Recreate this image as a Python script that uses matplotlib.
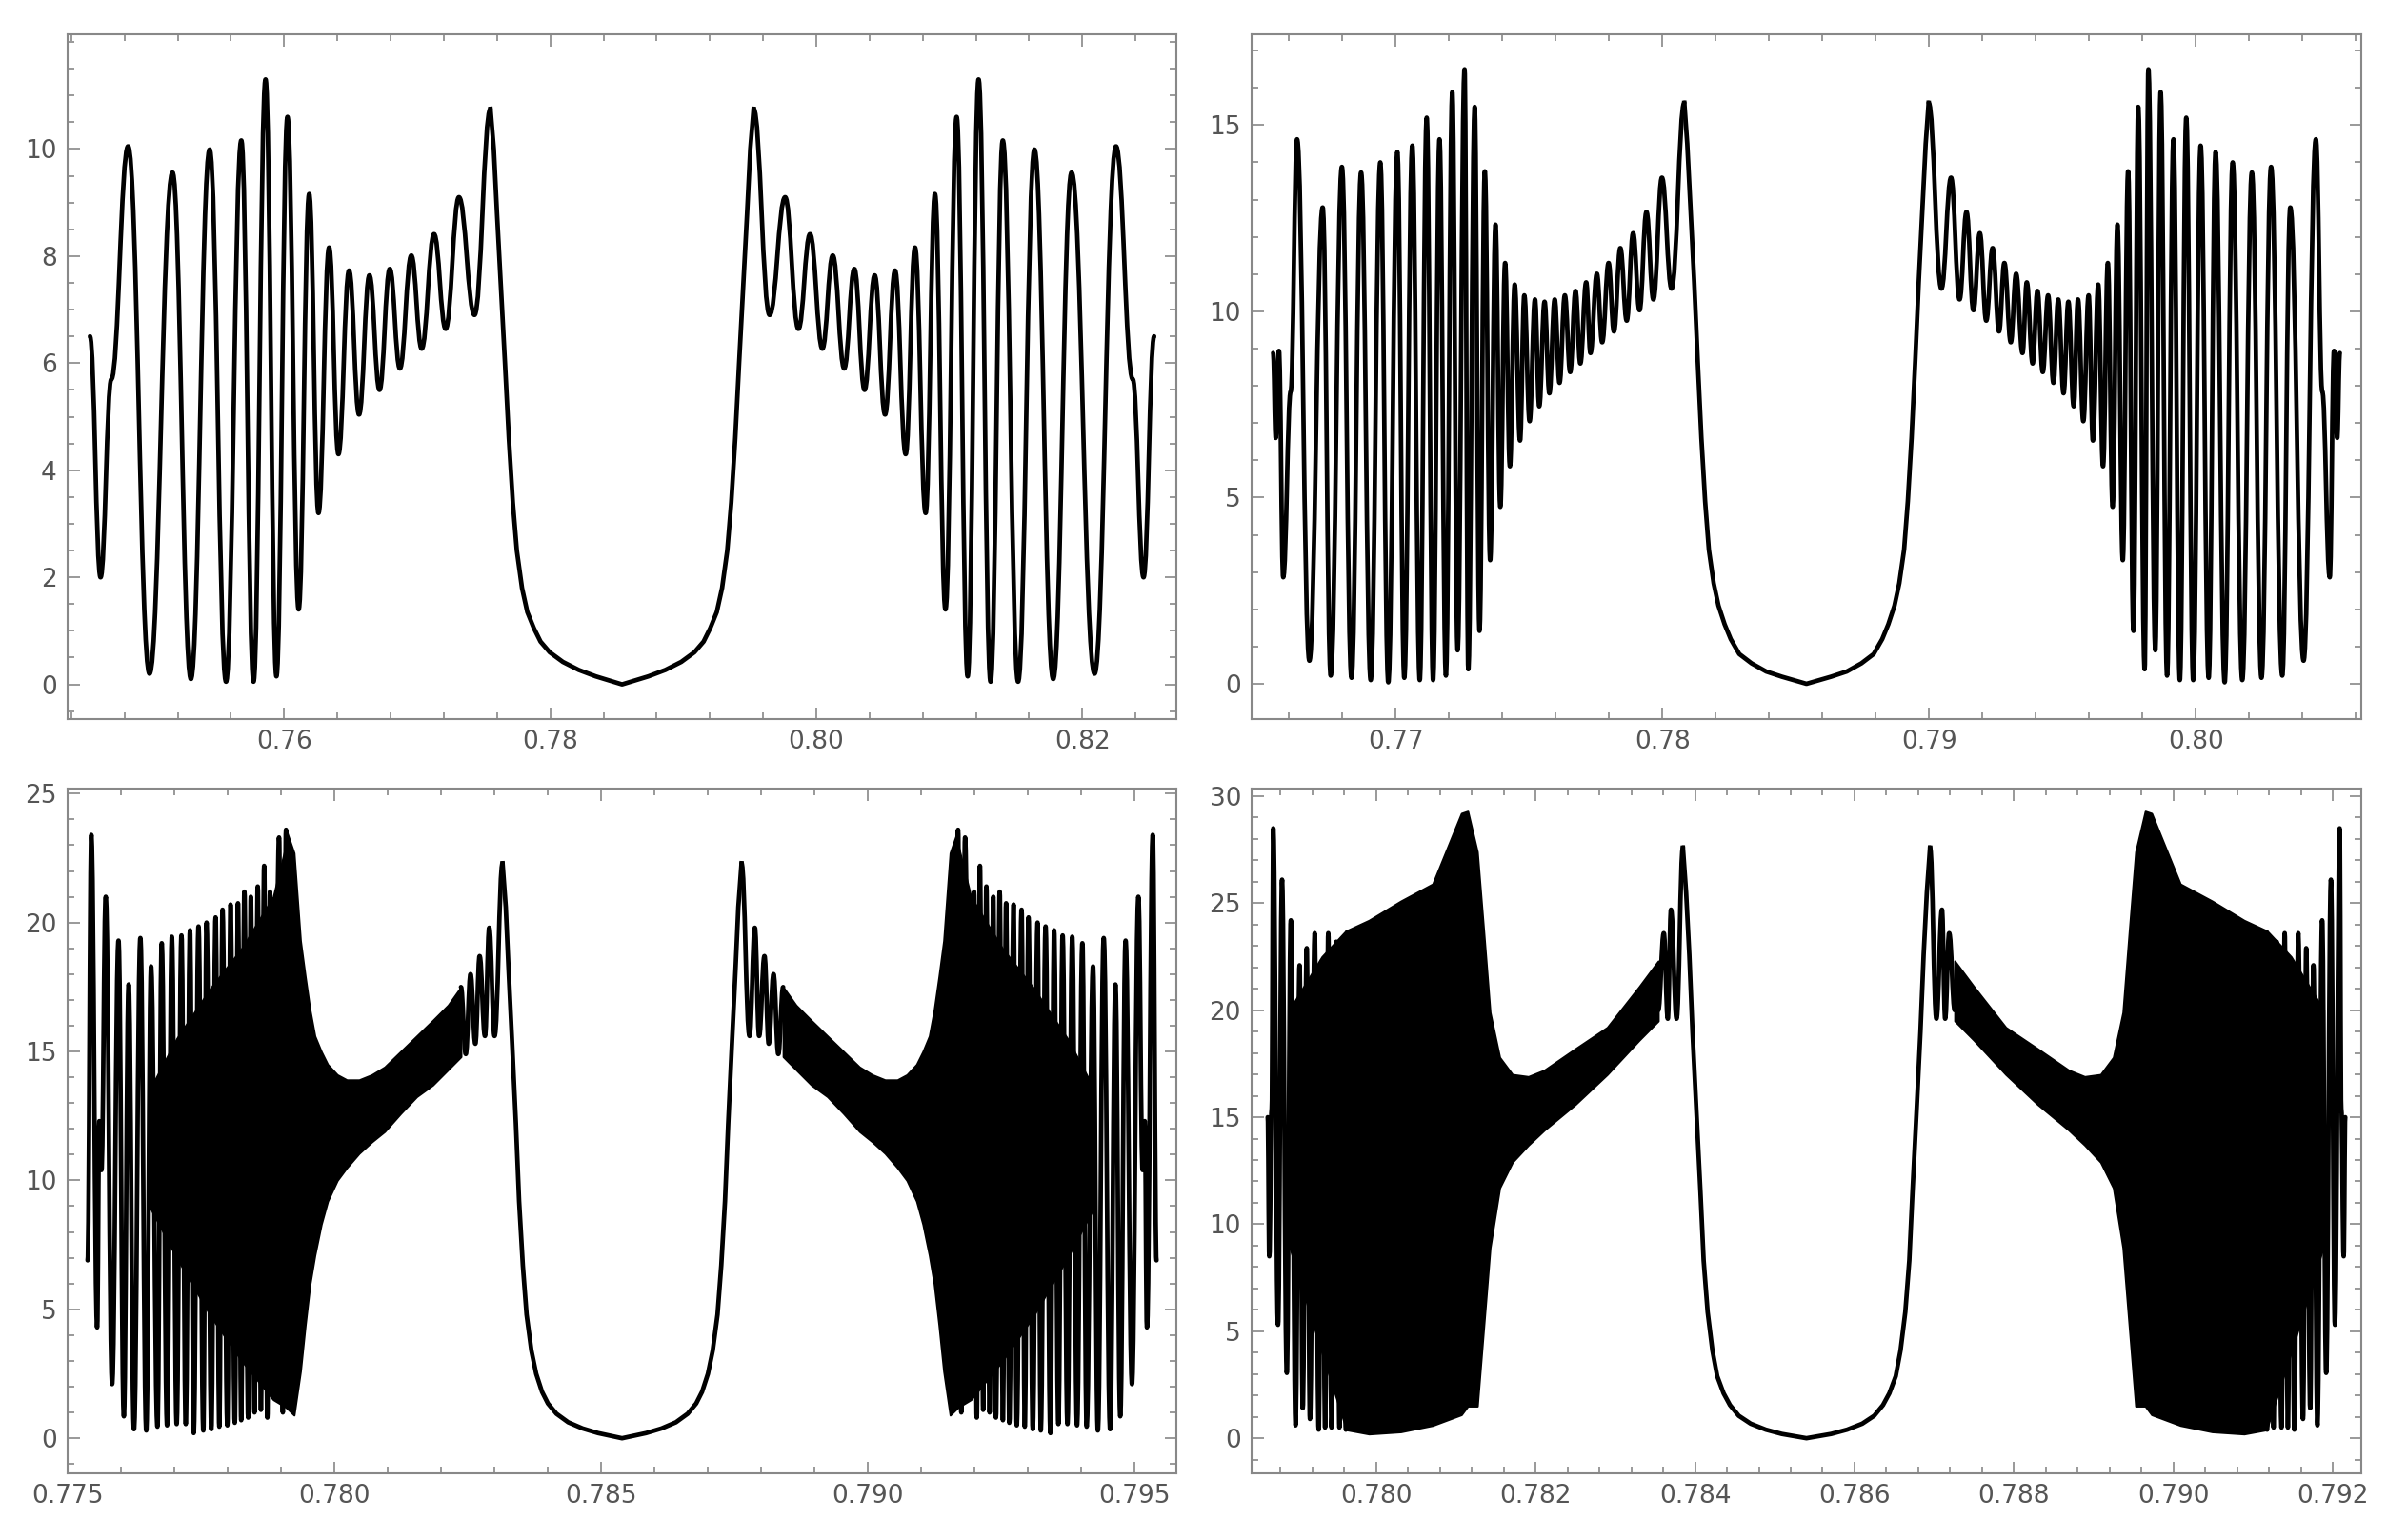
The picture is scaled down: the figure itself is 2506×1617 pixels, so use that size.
import numpy as np
import matplotlib
matplotlib.use("Agg")
import matplotlib.pyplot as plt
from matplotlib.path import Path
from matplotlib.patches import PathPatch
from matplotlib.ticker import FixedLocator, AutoMinorLocator, FormatStrFormatter

center = 0.785398

# ---------- top-left ----------
tl_dx = [-0.04000, -0.03920, -0.03839, -0.03713, -0.03552, -0.03379, -0.03241, -0.03100,
         -0.02977, -0.02862, -0.02770, -0.02680, -0.02598, -0.02515, -0.02431, -0.02352,
         -0.02282, -0.02202, -0.02132, -0.02052, -0.01977, -0.01899, -0.01823, -0.01746,
         -0.01670, -0.01584, -0.01506, -0.01413, -0.01326, -0.01226, -0.01109, -0.00989]
tl_y = [6.5, 2.0, 5.7, 10.05, 0.2, 9.56, 0.1, 9.99, 0.05, 10.16, 0.05, 11.3, 0.15, 10.6,
        1.4, 9.16, 3.2, 8.16, 4.3, 7.73, 5.04, 7.64, 5.5, 7.76, 5.9, 8.01, 6.27, 8.41,
        6.64, 9.1, 6.9, 10.75]
tl_bowl_dx = [-0.00989, -0.00964, -0.00940, -0.00910, -0.00880, -0.00851, -0.00821, -0.00791,
              -0.00752, -0.00712, -0.00663, -0.00613, -0.00544, -0.00445, -0.00326, -0.00198, 0.0]
tl_bowl_y = [10.75, 10.0, 8.8, 7.4, 6.0, 4.6, 3.4, 2.5, 1.8, 1.35, 1.05, 0.8, 0.6, 0.42, 0.27,
             0.15, 0.0]

# ---------- top-right ----------
tr_dx = [-0.02000, -0.01990, -0.01978, -0.01962, -0.01934, -0.01910, -0.01864, -0.01814,
         -0.01784, -0.01742, -0.01706, -0.01670, -0.01634, -0.01598, -0.01568, -0.01534,
         -0.01508, -0.01478, -0.01450, -0.01424, -0.01400, -0.01376, -0.01352, -0.01328,
         -0.01308, -0.01282, -0.01268, -0.01244, -0.01226, -0.01206, -0.01186, -0.01166,
         -0.01148, -0.01130, -0.01112, -0.01094, -0.01074, -0.01058, -0.01038, -0.01018,
         -0.01002, -0.00982, -0.00964, -0.00944, -0.00926, -0.00906, -0.00886, -0.00866,
         -0.00848, -0.00826, -0.00810, -0.00786, -0.00766, -0.00742, -0.00722, -0.00698,
         -0.00674, -0.00650, -0.00626, -0.00600, -0.00574, -0.00542, -0.00506, -0.00458]
tr_y = [8.88, 6.6, 8.94, 2.86, 7.85, 14.62, 0.62, 12.79, 0.22, 13.88, 0.16, 13.73, 0.1,
        14.0, 0.04, 14.28, 0.16, 14.45, 0.1, 15.2, 0.1, 14.62, 0.22, 15.89, 0.9, 16.5,
        0.39, 15.49, 1.42, 13.76, 3.32, 12.33, 4.75, 11.3, 5.84, 10.72, 6.53, 10.43, 7.05,
        10.32, 7.45, 10.26, 7.8, 10.32, 8.08, 10.43, 8.37, 10.55, 8.6, 10.78, 8.88, 11.01,
        9.17, 11.3, 9.46, 11.7, 9.75, 12.1, 10.03, 12.67, 10.32, 13.59, 10.61, 15.6]
tr_bowl_dx = [-0.00458, -0.00447, -0.00435, -0.00421, -0.00408, -0.00394, -0.00380, -0.00366,
              -0.00348, -0.00330, -0.00307, -0.00284, -0.00252, -0.00206, -0.00151, -0.00092, 0.0]
tr_bowl_y = [15.6, 14.5, 12.8, 10.8, 8.7, 6.6, 4.9, 3.6, 2.7, 2.1, 1.6, 1.2, 0.8, 0.55, 0.33,
             0.19, 0.0]

# ---------- bottom-left ----------
bl_dx = [-0.01002, -0.00995, -0.00984, -0.00980, -0.00976, -0.00968, -0.00956, -0.00944,
         -0.00934, -0.00925, -0.00915, -0.00903, -0.00892, -0.00883, -0.00871, -0.00863,
         -0.00853, -0.00844, -0.00835, -0.00826, -0.00818, -0.00810, -0.00803, -0.00794,
         -0.00785, -0.00779, -0.00770, -0.00762, -0.00755, -0.00749, -0.00740, -0.00734,
         -0.00726, -0.00720, -0.00714, -0.00708, -0.00701, -0.00696, -0.00689, -0.00683,
         -0.00677, -0.00671, -0.00665, -0.00660, -0.00654, -0.00643, -0.00636, -0.00630,
         -0.00621]
bl_y = [6.9, 23.4, 4.3, 12.3, 10.4, 21.0, 2.1, 19.3, 0.85, 17.6, 0.35, 19.4, 0.3, 18.3,
        0.45, 19.2, 0.5, 19.45, 0.55, 19.5, 0.55, 19.7, 0.2, 19.85, 0.3, 20.0, 0.35, 20.2,
        0.45, 20.5, 0.5, 20.7, 0.6, 20.75, 0.7, 21.2, 0.8, 21.0, 1.0, 21.4, 1.1, 22.2, 0.8,
        21.2, 1.6, 23.3, 1.0, 23.6, 1.2]
bl_band_dx = [-0.00630, -0.00615, -0.00603, -0.00594, -0.00585, -0.00576, -0.00564,
              -0.00552, -0.00534, -0.00516, -0.00493, -0.00469, -0.00445, -0.00415,
              -0.00385, -0.00355, -0.00326, -0.00302]
bl_band_up = [23.6, 22.7, 19.3, 17.9, 16.6, 15.6, 15.0, 14.5, 14.1, 13.9, 13.9, 14.1, 14.4,
              15.0, 15.6, 16.2, 16.8, 17.5]
bl_band_lo = [1.2, 0.9, 2.6, 4.4, 6.0, 7.1, 8.3, 9.2, 10.0, 10.5, 11.05, 11.5, 11.9, 12.6,
              13.25, 13.7, 14.3, 14.8]
bl_inner_dx = [-0.00886, -0.00835, -0.00770, -0.00713, -0.00654, -0.00630]
bl_inner_up = [13.5, 15.5, 17.5, 19.0, 21.0, 23.0]
bl_inner_lo = [9.0, 7.0, 4.7, 3.0, 1.5, 1.2]
bl_tail_dx = [-0.00302, -0.00293, -0.00284, -0.00275, -0.00267, -0.00257, -0.00249,
              -0.00239, -0.00224]
bl_tail_y = [17.5, 14.9, 18.0, 15.3, 18.7, 15.6, 19.8, 15.6, 22.3]
bl_bowl_dx = [-0.00224, -0.00218, -0.00213, -0.00206, -0.00199, -0.00193, -0.00186, -0.00179,
              -0.00170, -0.00161, -0.00150, -0.00139, -0.00123, -0.00101, -0.00074, -0.00045, 0.0]
bl_bowl_y = [22.3, 20.6, 18.3, 15.3, 12.2, 9.2, 6.7, 4.8, 3.4, 2.5, 1.8, 1.35, 0.95, 0.62, 0.38,
             0.2, 0.0]

# ---------- bottom-right ----------
br_dx = [-0.00676, -0.00674, -0.00671, -0.00669, -0.00663, -0.00658, -0.00652, -0.00647,
         -0.00641, -0.00636, -0.00632, -0.00627, -0.00623, -0.00617, -0.00612, -0.00608,
         -0.00604, -0.00600, -0.00596, -0.00590, -0.00586, -0.00582, -0.00578]
br_y = [15.0, 8.5, 15.4, 28.5, 5.3, 26.1, 3.05, 24.2, 0.6, 22.1, 1.4, 22.9, 0.9, 23.6,
        0.4, 22.3, 0.5, 23.6, 0.5, 23.2, 0.5, 23.2, 0.4]
br_band_dx = [-0.00578, -0.00549, -0.00509, -0.00469, -0.00433, -0.00425, -0.00413,
              -0.00405, -0.00397, -0.00385, -0.00369, -0.00349, -0.00329, -0.00290,
              -0.00250, -0.00210, -0.00186]
br_band_up = [23.7, 24.2, 25.1, 25.9, 29.2, 29.3, 27.4, 23.7, 19.9, 17.8, 17.0, 16.9, 17.2,
              18.2, 19.2, 21.1, 22.3]
br_band_lo = [0.4, 0.2, 0.3, 0.6, 1.1, 1.5, 1.5, 5.2, 8.9, 11.7, 12.9, 13.7, 14.4, 15.6,
              17.0, 18.6, 19.5]
br_inner_dx = [-0.00649, -0.00608, -0.00578]
br_inner_up = [20.0, 22.5, 23.7]
br_inner_lo = [9.0, 4.0, 0.5]
br_tail_dx = [-0.00186, -0.00179, -0.00174, -0.00170, -0.00163, -0.00155]
br_tail_y = [20.0, 23.6, 19.6, 24.7, 19.6, 27.6]
br_bowl_dx = [-0.00155, -0.00151, -0.00147, -0.00143, -0.00138, -0.00133, -0.00129, -0.00124,
              -0.00118, -0.00112, -0.00104, -0.00096, -0.00085, -0.00070, -0.00051, -0.00031, 0.0]
br_bowl_y = [27.6, 25.5, 22.6, 19.0, 15.2, 11.5, 8.3, 5.9, 4.1, 2.9, 2.1, 1.55, 1.05, 0.68, 0.4,
             0.2, 0.0]

LW = 3.4


def osc_path(xs, ys):
    verts = [(xs[0], ys[0])]
    codes = [Path.MOVETO]
    for i in range(1, len(xs)):
        x0, y0, x1, y1 = xs[i - 1], ys[i - 1], xs[i], ys[i]
        d = x1 - x0
        verts += [(x0 + 0.42 * d, y0), (x1 - 0.42 * d, y1), (x1, y1)]
        codes += [Path.CURVE4] * 3
    return Path(verts, codes)


def draw_osc(ax, dx, y):
    dx = np.asarray(dx)
    y = np.asarray(y)
    for sgn in (1, -1):
        xs = center + sgn * dx
        ax.add_patch(PathPatch(osc_path(xs, y), fill=False, lw=LW, color="black",
                               capstyle="round", joinstyle="round"))


def draw_bowl(ax, dx, y):
    dx = np.asarray(dx)
    xs = np.concatenate([center + dx, center - dx[::-1][1:]])
    ys = np.concatenate([y, list(y)[::-1][1:]])
    ax.plot(xs, ys, color="black", lw=LW, solid_joinstyle="round")


def draw_band(ax, dx, up, lo):
    dx = np.asarray(dx)
    for sgn in (1, -1):
        ax.fill_between(center + sgn * dx, lo, up, color="black", lw=1.5)


def style(ax, xlim, ylim, xt, yt, fmt, xminor, yminor):
    ax.set_xlim(center - xlim, center + xlim)
    ax.set_ylim(*ylim)
    ax.xaxis.set_major_locator(FixedLocator(xt))
    ax.yaxis.set_major_locator(FixedLocator(yt))
    ax.xaxis.set_minor_locator(AutoMinorLocator(xminor))
    ax.yaxis.set_minor_locator(AutoMinorLocator(yminor))
    ax.xaxis.set_major_formatter(FormatStrFormatter(fmt))
    ax.yaxis.set_major_formatter(FormatStrFormatter("%d"))
    for s in ax.spines.values():
        s.set_color("#888888")
        s.set_linewidth(1.5)
    ax.tick_params(which="both", direction="in", top=True, right=True, colors="#888888",
                   labelcolor="#555555", labelsize=19, width=1.2)
    ax.tick_params(which="major", length=9, pad=8)
    ax.tick_params(which="minor", length=5)


fig = plt.figure(figsize=(25.06, 16.17), dpi=100)
ax1 = fig.add_axes([0.0282, 0.533, 0.4648, 0.445])
ax2 = fig.add_axes([0.5244, 0.533, 0.4648, 0.445])
ax3 = fig.add_axes([0.0282, 0.0433, 0.4648, 0.4447])
ax4 = fig.add_axes([0.5244, 0.0433, 0.4648, 0.4447])

draw_osc(ax1, tl_dx, tl_y)
draw_bowl(ax1, tl_bowl_dx, tl_bowl_y)
style(ax1, 0.0417, (-0.65, 12.15), [0.76, 0.78, 0.80, 0.82], [0, 2, 4, 6, 8, 10], "%.2f", 5, 4)

draw_osc(ax2, tr_dx, tr_y)
draw_bowl(ax2, tr_bowl_dx, tr_bowl_y)
style(ax2, 0.0208, (-0.95, 17.45), [0.77, 0.78, 0.79, 0.80], [0, 5, 10, 15], "%.2f", 5, 5)

draw_osc(ax3, bl_dx, bl_y)
draw_band(ax3, bl_inner_dx, bl_inner_up, bl_inner_lo)
draw_band(ax3, bl_band_dx, bl_band_up, bl_band_lo)
draw_osc(ax3, bl_tail_dx, bl_tail_y)
draw_bowl(ax3, bl_bowl_dx, bl_bowl_y)
style(ax3, 0.0104, (-1.36, 25.2), [0.775, 0.780, 0.785, 0.790, 0.795], [0, 5, 10, 15, 20, 25],
      "%.3f", 5, 5)

draw_osc(ax4, br_dx, br_y)
draw_band(ax4, br_inner_dx, br_inner_up, br_inner_lo)
draw_band(ax4, br_band_dx, br_band_up, br_band_lo)
draw_osc(ax4, br_tail_dx, br_tail_y)
draw_bowl(ax4, br_bowl_dx, br_bowl_y)
style(ax4, 0.00696, (-1.64, 30.36), [0.780, 0.782, 0.784, 0.786, 0.788, 0.790, 0.792],
      [0, 5, 10, 15, 20, 25, 30], "%.3f", 5, 5)

fig.savefig("out.png", dpi=100)
